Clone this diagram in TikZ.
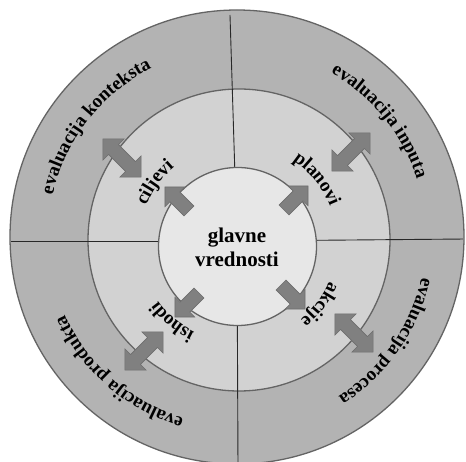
\documentclass[tikz,border=0pt]{standalone}
\usepackage{fontspec}
\setmainfont{Liberation Serif}
\usetikzlibrary{decorations.text}

\definecolor{ringout}{RGB}{179,179,179}
\definecolor{ringmid}{RGB}{210,210,210}
\definecolor{ringin}{RGB}{231,231,231}
\definecolor{ringedge}{RGB}{100,100,100}
\definecolor{divline}{RGB}{40,40,40}
\definecolor{arrowfill}{RGB}{128,128,128}
\definecolor{arrowedge}{RGB}{110,110,110}

\newcommand\lblfont{\bfseries\fontsize{19}{22}\selectfont}

\tikzset{
  ring/.style={draw=ringedge, line width=1.3pt},
  divider/.style={draw=divline, line width=0.9pt},
  blockarrow/.style={fill=arrowfill, draw=arrowedge, line width=0.6pt, line join=miter},
  % arrow from the core outwards, tail at the origin, pointing along +x
  onearrow/.pic={\path[blockarrow] (0,-7) -- (20,-7) -- (20,-14) -- (34,0) -- (20,14) -- (20,7) -- (0,7) -- cycle;},
  % two-headed arrow centred on the origin
  twoarrow/.pic={\path[blockarrow] (-27,0) -- (-12,15) -- (-12,7) -- (12,7) -- (12,15) -- (27,0) -- (12,-15) -- (12,-7) -- (-12,-7) -- (-12,-15) -- cycle;},
  arclabel/.style={decorate, decoration={text along path, text align=center, text={|\lblfont|#1}}}
}

\begin{document}
\begin{tikzpicture}[x=1pt,y=1pt]
  \clip (0,0) rectangle (466,461);
  \fill[white] (0,0) rectangle (466,461);

  \coordinate (oc) at (237,224);
  \coordinate (mc) at (239,221);
  \coordinate (ic) at (237.5,214.5);
  \coordinate (lc) at (238,218);

  % rings
  \path[ring, fill=ringout] (oc) circle[radius=227pt];
  \path[ring, fill=ringmid] (mc) circle[radius=151pt];

  % quadrant dividers
  \begin{scope}
    \clip (oc) circle[radius=226pt];
    \draw[divider] (237,220) -- (230,446);
    \draw[divider] (237,220) -- (238,-6);
    \draw[divider] (237,220) -- (8,220);
    \draw[divider] (237,220) -- (466,222);
  \end{scope}

  % core
  \path[ring, fill=ringin] (ic) circle[radius=79pt];
  \node[align=center, font=\bfseries\fontsize{21}{24}\selectfont, inner sep=0pt] (core) at (237,214) {glavne\\vrednosti};

  % arrows from the core
  \pic[rotate=135] at (189,250) {onearrow};
  \pic[rotate=45]  at (284,251) {onearrow};
  \pic[rotate=-45] at (281,176) {onearrow};
  \pic[rotate=225] at (199,168) {onearrow};

  % arrows between the rings
  \pic[rotate=135] at (122,303) {twoarrow};
  \pic[rotate=45]  at (351,309) {twoarrow};
  \pic[rotate=-45] at (354,128) {twoarrow};
  \pic[rotate=45]  at (144,110) {twoarrow};

  % labels of the middle ring
  \path[arclabel={ciljevi}] ([shift={(194:99)}]lc) arc[start angle=194, end angle=94, radius=99pt];
  \path[arclabel={planovi}] ([shift={(89:99)}]lc) arc[start angle=89, end angle=-11, radius=99pt];
  \path[arclabel={akcije}] ([shift={(13:99)}]lc) arc[start angle=13, end angle=-87, radius=99pt];
  \path[arclabel={ishodi}] ([shift={(280:99)}]lc) arc[start angle=280, end angle=180, radius=99pt];

  % labels of the outer ring
  \path[arclabel={evaluacija konteksta}] ([shift={(187:189)}]oc) arc[start angle=187, end angle=97, radius=189pt];
  \path[arclabel={evaluacija inputa}] ([shift={(84:189)}]oc) arc[start angle=84, end angle=-6, radius=189pt];
  \path[arclabel={evaluacija procesa}] ([shift={(10:189)}]oc) arc[start angle=10, end angle=-80, radius=189pt];
  \path[arclabel={evaluacija produkta}] ([shift={(274:189)}]oc) arc[start angle=274, end angle=184, radius=189pt];
\end{tikzpicture}
\end{document}
